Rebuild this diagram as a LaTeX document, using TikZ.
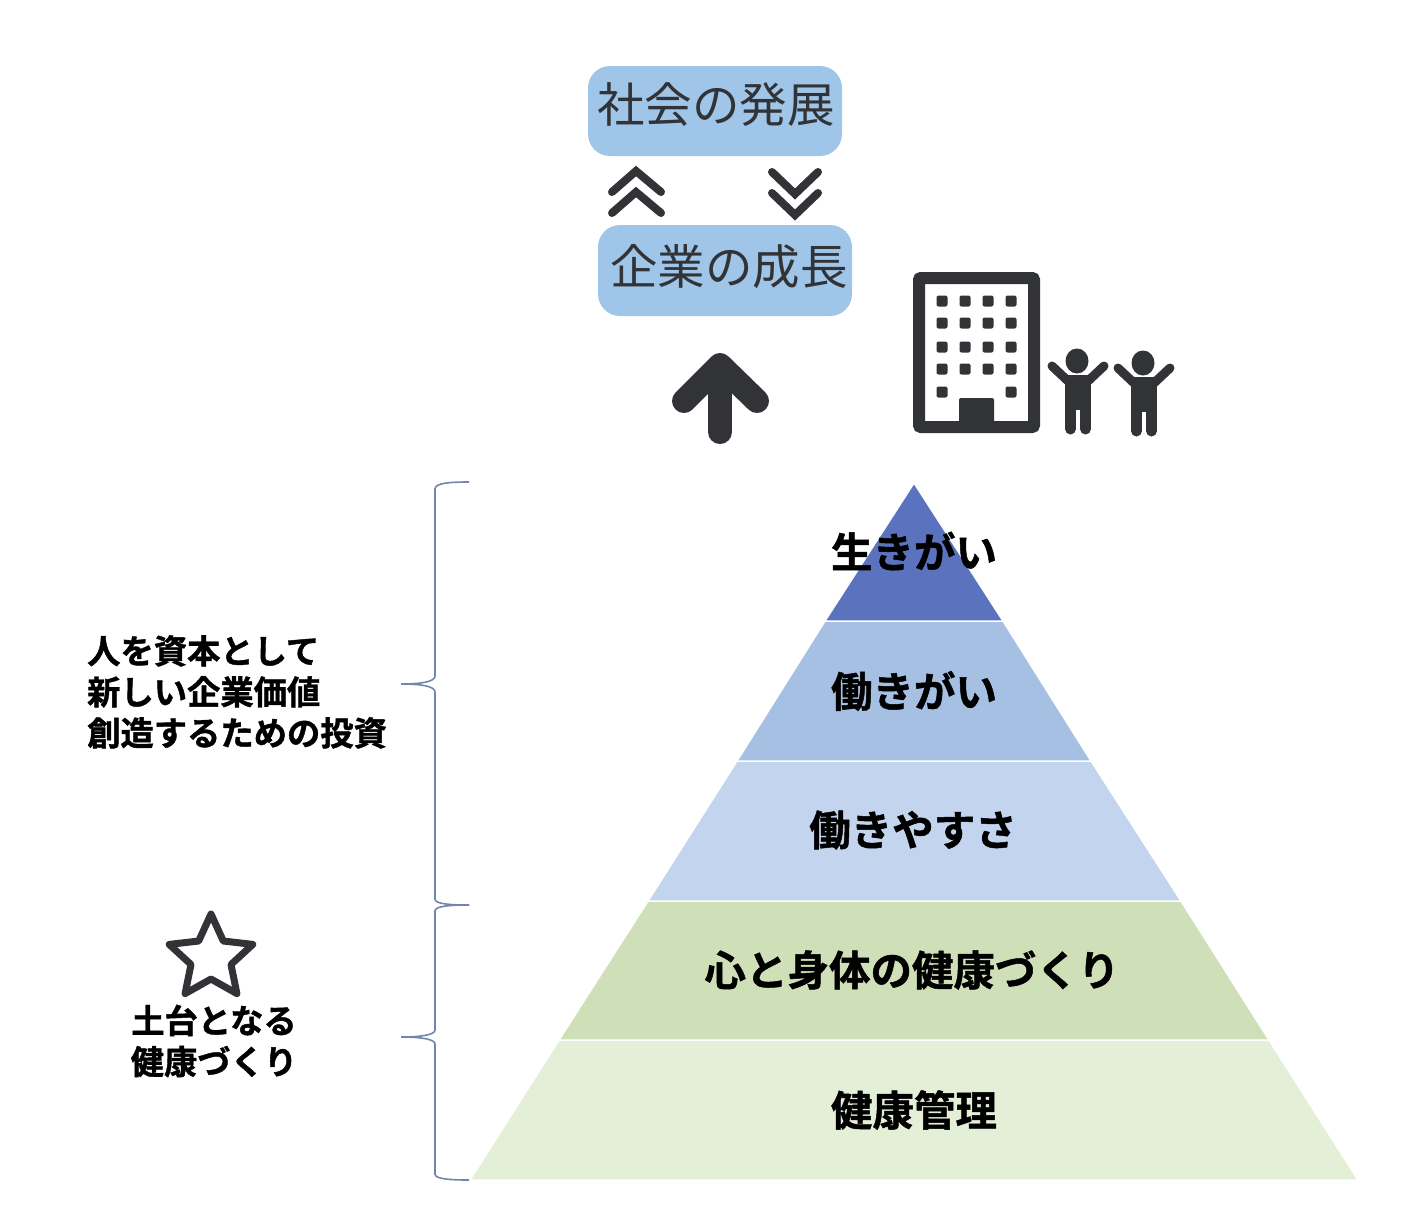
\documentclass[tikz,border=0pt]{standalone}
\usepackage{fontspec}
\setmainfont{Noto Sans CJK JP}
\newfontfamily\cjkblack[FakeBold=1.2]{Noto Sans CJK JP Bold}
\definecolor{ink}{HTML}{323336}
\definecolor{boxblue}{HTML}{9FC5E8}
\definecolor{braceblue}{HTML}{6F87B0}
\definecolor{tierA}{HTML}{5B73BF}
\definecolor{tierB}{HTML}{A6C0E3}
\definecolor{tierC}{HTML}{C3D5EE}
\definecolor{tierD}{HTML}{CFE0B8}
\definecolor{tierE}{HTML}{E4EFD8}
\tikzset{
  goalbox/.style={fill=boxblue,rounded corners=22pt},
  goaltext/.style={font=\fontsize{47.5}{50}\selectfont,text=ink,inner sep=0pt},
  tiertext/.style={font=\fontsize{41.5}{44}\cjkblack,text=black,inner sep=0pt},
  sidetext/.style={font=\fontsize{33.3}{41}\cjkblack,text=black,inner sep=0pt,align=left},
  tier/.style={draw=white,line width=1.5pt},
  chevron/.style={draw=ink,line width=8pt,line join=miter,line cap=round},
  bracket/.style={draw=braceblue,line width=1.6pt},
  window/.style={fill=ink,rounded corners=2pt},
  limb/.style={draw=ink,line cap=round,line join=round}
}
\begin{document}
\begin{tikzpicture}[x=1pt,y=-1pt]
\useasboundingbox (0,0) rectangle (1413,1218);
% goal boxes
\fill[goalbox] (588,66) rectangle (842,156);
\fill[goalbox] (598,225) rectangle (852,316);
\node[goaltext] (society) at (716,105) {社会の発展};
\node[goaltext] (company) at (729,267) {企業の成長};
% chevrons
\draw[chevron] (612,192) -- (636,171) -- (661,192);
\draw[chevron] (612,213) -- (636,192) -- (661,213);
\draw[chevron] (772,172) -- (795,194) -- (818,172);
\draw[chevron] (772,193) -- (795,215) -- (818,193);
% big arrow
\draw[draw=ink,line width=24pt,line cap=round,line join=round] (720,375) -- (720,432);
\draw[draw=ink,line width=24pt,line cap=round,line join=round] (684,401) -- (720,365) -- (757,401);
% building
\draw[draw=ink,line width=12pt,rounded corners=2pt] (919,278) rectangle (1034,427);
\foreach \wy in {301,323,347,369}
  \foreach \wx in {942,965,988,1011}
    \fill[window] (\wx-5.5,\wy-5.5) rectangle (\wx+5.5,\wy+5.5);
\foreach \wx in {942,1011}
  \fill[window] (\wx-5.5,392-5.5) rectangle (\wx+5.5,392+5.5);
\fill[ink,rounded corners=2pt] (959,425) -- (959,398) -- (994,398) -- (994,425) -- cycle;
% people
\foreach \px/\py in {0/0,66/2}{
  \begin{scope}[shift={(\px,\py)}]
    \fill[ink] (1077,361) ellipse [x radius=11.5,y radius=12.5];
    \fill[ink] (1065,375) rectangle (1091,410);
    \draw[limb,line width=9pt] (1052,366) -- (1069,382);
    \draw[limb,line width=9pt] (1104,366) -- (1087,382);
    \draw[limb,line width=11pt] (1070.5,405) -- (1070.5,429);
    \draw[limb,line width=11pt] (1085.5,405) -- (1085.5,429);
  \end{scope}
}
% pyramid
\filldraw[tier,fill=tierE] (470,1180) -- (1358,1180) -- (1269,1040) -- (559,1040) -- cycle;
\filldraw[tier,fill=tierD] (559,1040) -- (1269,1040) -- (1181,901) -- (648,901) -- cycle;
\filldraw[tier,fill=tierC] (648,901) -- (1181,901) -- (1091,761) -- (737,761) -- cycle;
\filldraw[tier,fill=tierB] (737,761) -- (1091,761) -- (1003,621) -- (825,621) -- cycle;
\filldraw[tier,fill=tierA] (825,621) -- (1003,621) -- (914,483) -- cycle;
\node[tiertext] (t1) at (914,551) {生きがい};
\node[tiertext] (t2) at (914,691) {働きがい};
\node[tiertext] (t3) at (913,830) {働きやすさ};
\node[tiertext] (t4) at (912,970) {心と身体の健康づくり};
\node[tiertext] (t5) at (914,1110) {健康管理};
% braces
\draw[bracket] (469,482) .. controls (450,482) and (435,483) .. (435,489)
  -- (435,676) .. controls (435,682) and (420,684) .. (401,684)
  .. controls (420,684) and (435,686) .. (435,692)
  -- (435,899) .. controls (435,904) and (450,905) .. (469,905);
\draw[bracket] (469,905) .. controls (450,905) and (435,906) .. (435,911)
  -- (435,1030) .. controls (435,1035) and (420,1037) .. (401,1037)
  .. controls (420,1037) and (435,1039) .. (435,1044)
  -- (435,1174) .. controls (435,1179) and (450,1180) .. (469,1180);
% star
\draw[draw=ink,line width=7pt,line join=round] (211,914) -- (223.3,941) -- (252.8,944.4) -- (231,964.5) -- (236.9,993.6) -- (211,979) -- (185.1,993.6) -- (191,964.5) -- (169.2,944.4) -- (198.7,941) -- cycle;
% side labels
\node[sidetext,anchor=north west] (invest) at (87,635) {人を資本として\\新しい企業価値\\創造するための投資};
\node[sidetext,align=center] (base) at (214,1041) {土台となる\\健康づくり};
\end{tikzpicture}
\end{document}
